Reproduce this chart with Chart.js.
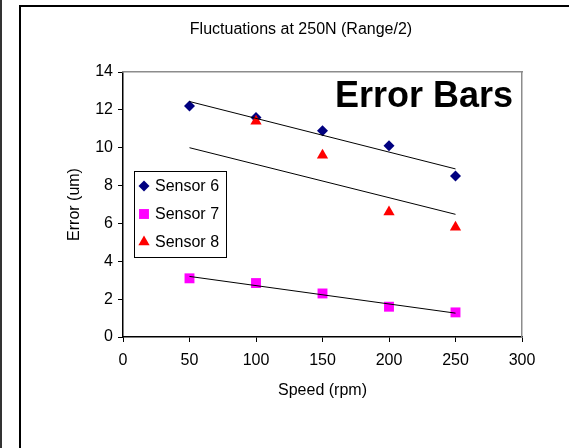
<!DOCTYPE html>
<html>
<head>
<meta charset="utf-8">
<script src="https://cdn.jsdelivr.net/npm/chart.js@4.4.0/dist/chart.umd.min.js"></script>
<style>
  html, body { margin: 0; padding: 0; background: #fff; overflow: hidden; }
  body { width: 569px; height: 448px; position: relative; }
  #edge { position: absolute; left: 0; top: 0; width: 2px; height: 448px; background: #333; }
  #frame { position: absolute; left: 19px; top: 5px; width: 600px; height: 600px; border: 2px solid #000; }
  #wrap { position: absolute; left: 21px; top: 0; width: 560px; height: 448px; }
</style>
</head>
<body>
<div id="edge"></div>
<div id="frame"></div>
<div id="wrap"><canvas id="chart" width="560" height="448"></canvas></div>
<script>
// Speed settings (rpm) and the measured fluctuation per sensor (um)
const speeds = [50, 100, 150, 200, 250];
const sensor6 = [12.2, 11.6, 10.9, 10.1, 8.5];
const sensor7 = [3.1, 2.85, 2.3, 1.6, 1.3];
const sensor8 = [7.8, 11.4, 9.6, 6.6, 5.8];

const xTicks = [0, 50, 100, 150, 200, 250, 300];
const yTicks = [0, 2, 4, 6, 8, 10, 12, 14];

const FONT = 'Arial, "Liberation Sans", sans-serif';
Chart.defaults.font.family = FONT;
Chart.defaults.font.size = 16;
Chart.defaults.color = '#000';

function toPoints(values) {
  return speeds.map((s, i) => ({ x: s, y: values[i] }));
}

// Least-squares linear fit, evaluated at the first and last speed
function trendLine(values) {
  const n = speeds.length;
  const mx = speeds.reduce((a, b) => a + b, 0) / n;
  const my = values.reduce((a, b) => a + b, 0) / n;
  let sxy = 0, sxx = 0;
  speeds.forEach((s, i) => {
    sxy += (s - mx) * (values[i] - my);
    sxx += (s - mx) * (s - mx);
  });
  const slope = sxy / sxx;
  const ends = [speeds[0], speeds[n - 1]];
  return ends.map(x => ({ x, y: my + slope * (x - mx) }));
}

function trendDataset(values) {
  return {
    type: 'line',
    label: '',
    data: trendLine(values),
    borderColor: '#000',
    borderWidth: 1,
    pointRadius: 0,
    fill: false,
    order: -1
  };
}

const sensors = [
  { label: 'Sensor 6', data: toPoints(sensor6), pointStyle: 'rectRot', pointRadius: 5.5, backgroundColor: '#000080', order: 2 },
  { label: 'Sensor 7', data: toPoints(sensor7), pointStyle: 'rect', pointRadius: 7, backgroundColor: '#ff00ff', order: 1 },
  { label: 'Sensor 8', data: toPoints(sensor8), pointStyle: 'triangle', pointRadius: 6.5, backgroundColor: '#ff0000', order: 0 }
];
sensors.forEach(d => {
  d.borderColor = d.backgroundColor;
  d.borderWidth = 0;
  d.pointHoverRadius = d.pointRadius;
});

// Boxed legend sitting inside the plot, over the markers
const boxedLegend = {
  id: 'boxedLegend',
  afterDatasetsDraw(chart, args, opts) {
    const { ctx } = chart;
    const items = chart.data.datasets.filter(d => d.label);
    ctx.save();
    ctx.fillStyle = '#fff';
    ctx.strokeStyle = '#000';
    ctx.lineWidth = 1;
    ctx.fillRect(opts.left, opts.top, opts.width, opts.height);
    ctx.strokeRect(opts.left + 0.5, opts.top + 0.5, opts.width, opts.height);
    ctx.font = '16px ' + FONT;
    ctx.textBaseline = 'middle';
    items.forEach((d, i) => {
      const y = opts.top + opts.firstRow + i * opts.rowGap;
      const mx = opts.left + opts.markerX;
      ctx.fillStyle = d.backgroundColor;
      const style = { pointStyle: d.pointStyle, radius: d.pointRadius, rotation: 0, borderWidth: 0 };
      if (Chart.helpers && Chart.helpers.drawPoint) {
        Chart.helpers.drawPoint(ctx, style, mx, y);
      } else {
        ctx.fillRect(mx - 5, y - 5, 10, 10);
      }
      ctx.fillStyle = '#000';
      ctx.fillText(d.label, opts.left + opts.textX, y + 1);
    });
    ctx.restore();
  },
  afterDraw(chart, args, opts) {
    const { ctx } = chart;
    ctx.save();
    ctx.font = 'bold 36px ' + FONT;
    ctx.fillStyle = '#000';
    ctx.textAlign = 'right';
    ctx.textBaseline = 'alphabetic';
    ctx.fillText(opts.caption, opts.captionX, opts.captionY);
    ctx.restore();
  }
};

new Chart(document.getElementById('chart'), {
  type: 'scatter',
  data: {
    datasets: [
      ...sensors,
      trendDataset(sensor6),
      trendDataset(sensor7),
      trendDataset(sensor8)
    ]
  },
  options: {
    responsive: false,
    animation: false,
    layout: { padding: 0 },
    plugins: {
      legend: { display: false },
      tooltip: { enabled: false },
      title: {
        display: true,
        text: 'Fluctuations at 250N (Range/2)',
        font: { size: 16, weight: 'normal' },
        color: '#000',
        padding: { top: 20.4, bottom: 32.4 }
      },
      boxedLegend: {
        left: 113, top: 171, width: 92, height: 86,
        markerX: 10, textX: 21, firstRow: 15, rowGap: 28,
        caption: 'Error Bars', captionX: 492, captionY: 107
      }
    },
    scales: {
      x: {
        type: 'linear',
        position: 'bottom',
        min: 0,
        max: 300,
        afterBuildTicks: s => { s.ticks = xTicks.map(v => ({ value: v })); },
        ticks: { padding: 9, color: '#000' },
        grid: { display: true, drawOnChartArea: false, drawTicks: true, tickLength: 5, color: '#000' },
        border: { color: '#000', width: 1.5 },
        title: { display: true, text: 'Speed (rpm)', padding: { top: 0, bottom: 47.5 } },
        afterFit: s => { s.height = 111; }
      },
      y: {
        type: 'linear',
        position: 'left',
        min: 0,
        max: 14,
        afterBuildTicks: s => { s.ticks = yTicks.map(v => ({ value: v })); },
        ticks: { padding: 5, color: '#000' },
        grid: { display: true, drawOnChartArea: false, drawTicks: true, tickLength: 5, color: '#000' },
        border: { color: '#000', width: 1.5 },
        title: { display: true, text: 'Error (um)', padding: { top: 44, bottom: 0 } },
        afterFit: s => { s.width = 102; }
      },
      // plot-area frame: grey edges on top and right
      xTop: {
        type: 'linear',
        position: 'top',
        ticks: { display: false },
        grid: { display: false },
        border: { color: '#8c8c8c', width: 1.5 },
        afterFit: s => { s.height = 0; }
      },
      yRight: {
        type: 'linear',
        position: 'right',
        ticks: { display: false },
        grid: { display: false },
        border: { color: '#8c8c8c', width: 1.5 },
        afterFit: s => { s.width = 59; }
      }
    }
  },
  plugins: [boxedLegend]
});
</script>
</body>
</html>
